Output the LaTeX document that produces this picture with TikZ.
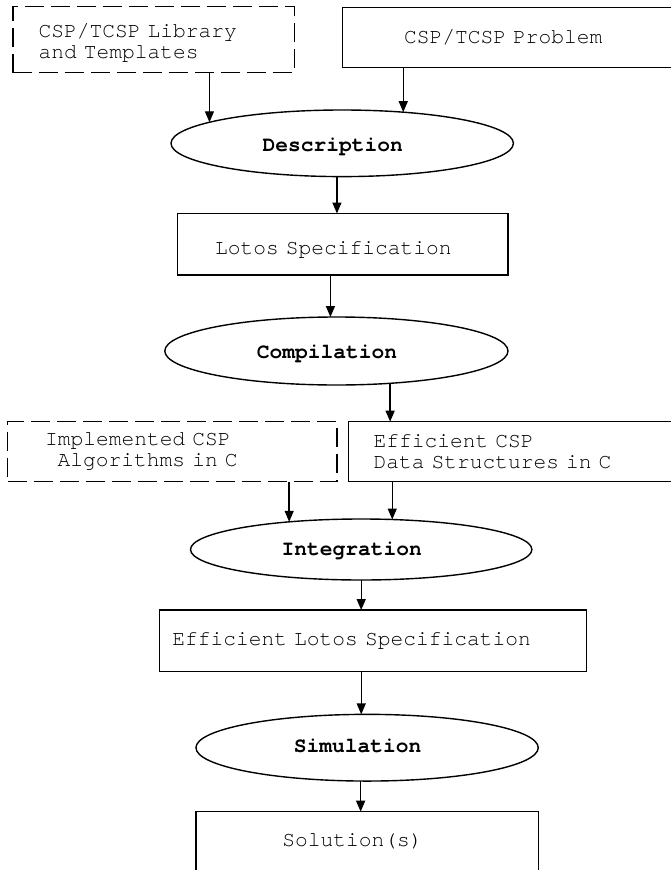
\documentclass[tikz,border=0pt]{standalone}
\usepackage{fontspec}
% fixed-pitch typewriter face, one cell per letter (no fi/ffi ligatures)
\newfontfamily\courfont{TeX Gyre Cursor}[Ligatures={NoCommon}, Kerning=Off]
\usetikzlibrary{shapes.geometric,arrows.meta}
% shift a label's ink down without changing the box used for centring
\newcommand\lowered[2]{\raisebox{-#1}[\height][\depth]{#2}}

\begin{document}
\begin{tikzpicture}[x=1pt,y=1pt,
  every node/.style={font=\courfont\fontsize{21.25}{21.5}\selectfont},
  lw/.style={line width=1.4pt},
  % rectangular data box; #1 = left padding of the text
  databox/.style={draw, lw, rectangle, anchor=north west, align=left,
    inner ysep=0pt, outer sep=0pt, inner xsep=#1},
  extbox/.style={databox=#1, dash pattern=on 19pt off 7pt},
  % elliptic process stage
  stage/.style={draw, lw, ellipse, inner sep=0pt, outer sep=0pt,
    font=\courfont\bfseries\fontsize{21.25}{21.5}\selectfont},
  arr/.style={lw, -{Triangle[length=11pt,width=9pt]}}
]
\useasboundingbox (0,0) rectangle (671,-870);

% inputs
\node[extbox=25.7pt, text width=230.2pt, minimum height=66pt] (lib) at (12.8,-6.7)
  {\lowered{3pt}{CSP/TCSP Library}\\\lowered{3pt}{and Templates}};
\node[databox=61.7pt, text width=234pt, minimum height=60.4pt] (prob) at (342.3,-7.3)
  {CSP/TCSP Problem};

\node[stage, minimum width=342.4pt, minimum height=66.6pt] (desc) at (342.2,-143.3)
  {\lowered{3.5pt}{Description}\hspace*{19pt}};

\node[databox=37.4pt, text width=255.6pt, minimum height=61.5pt] (lotos) at (177.6,-213.5)
  {\lowered{5.5pt}{Lotos Specification}};

\node[stage, minimum width=343.2pt, minimum height=68pt] (comp) at (336.4,-351)
  {\lowered{3pt}{Compilation}\hspace*{19pt}};

\node[extbox=37.3pt, text width=254.5pt, minimum height=60pt] (impl) at (7.7,-421.7)
  {Implemented CSP\\\hspace*{12.75pt}Algorithms in C};
\node[databox=24.8pt, text width=290.4pt, minimum height=60pt] (effcsp) at (348.7,-421.7)
  {Efficient CSP\\Data Structures in C};

\node[stage, minimum width=341.4pt, minimum height=61pt] (integ) at (361.2,-549.5)
  {\lowered{1pt}{Integration}\hspace*{19pt}};

\node[databox=12.8pt, text width=401pt, minimum height=61.7pt] (efflotos) at (159.6,-610)
  {Efficient Lotos Specification};

\node[stage, minimum width=342.3pt, minimum height=66.7pt] (sim) at (367.1,-747.7)
  {\lowered{-2pt}{Simulation}\hspace*{19pt}};

\node[databox=86.4pt, text width=169.5pt, minimum height=60pt] (sol) at (196,-811.7)
  {Solution(s)};

% flow
\draw[arr] (desc.171.2 |- lib.south) -- (desc.171.2);
\draw[arr] (desc.27.1 |- prob.south) -- (desc.27.1);
\draw[arr] (desc.261.1) -- (desc.261.1 |- lotos.north);
\draw[arr] (comp.100.2 |- lotos.south) -- (comp.100.2);
\draw[arr] (comp.329.7) -- (comp.329.7 |- effcsp.north);
\draw[arr] (integ.159.5 |- impl.south) -- (integ.159.5);
\draw[arr] (integ.44.7 |- effcsp.south) -- (integ.44.7);
\draw[arr] (integ.south) -- (integ.south |- efflotos.north);
\draw[arr] (sim.100.9 |- efflotos.south) -- (sim.100.9);
\draw[arr] (sim.259.1) -- (sim.259.1 |- sol.north);
\end{tikzpicture}
\end{document}
